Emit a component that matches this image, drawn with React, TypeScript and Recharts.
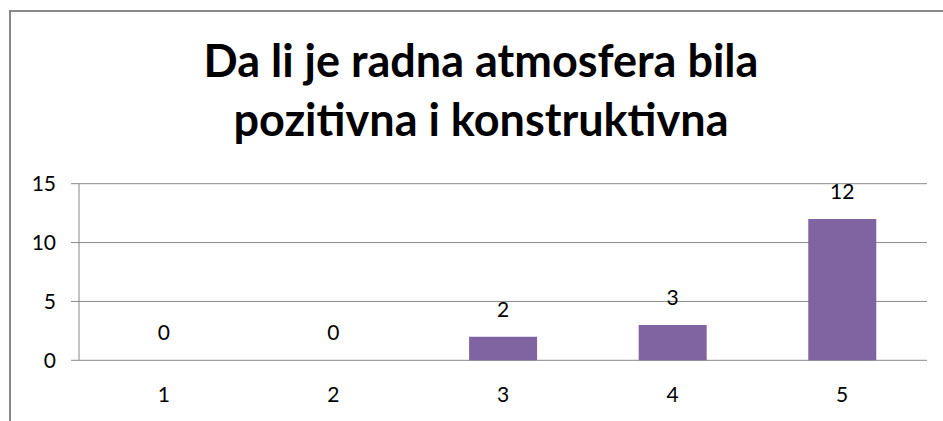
import React from 'react';
import { ComposedChart, Bar, Line, XAxis, YAxis, CartesianGrid, LabelList } from 'recharts';

const categories = ['1', '2', '3', '4', '5'];
const values = [0, 0, 2, 3, 12];
const yTicks = [0, 5, 10, 15];
const boundaryTicks = [0, 1, 2, 3, 4, 5];
const titleLines = ['Da li je radna atmosfera bila', 'pozitivna i konstruktivna'];

const data = categories.map((c, i) => ({ cat: c, value: values[i] }));

const FONT = 'Lato, "Open Sans", sans-serif';
const GRAY = '#888888';
const PURPLE = '#8064A2';

export default function App() {
  return (
    <div style={{ position: 'absolute', left: 0, top: 0, width: 943, height: 421, background: '#fff', overflow: 'hidden', fontFamily: FONT }}>
      <div style={{ position: 'absolute', left: 9, top: 10, width: 940, height: 420, border: `2px solid ${GRAY}`, boxSizing: 'border-box' }} />
      <div style={{ position: 'absolute', left: 0, width: 962, top: 31, textAlign: 'center', fontWeight: 700, fontSize: 45, lineHeight: '59px', color: '#000' }}>
        {titleLines.map((l) => (
          <div key={l}>{l}</div>
        ))}
      </div>
      <div style={{ position: 'absolute', left: 0, top: 0 }}>
        <ComposedChart width={943} height={421} data={data} margin={{ top: 183.7, right: 16, bottom: 30.7, left: 0 }} barCategoryGap="30%">
          <CartesianGrid horizontal vertical={false} stroke={GRAY} xAxisId="cat" />
          <YAxis
            width={79}
            domain={[0, 15]}
            ticks={yTicks}
            interval={0}
            tickSize={8}
            tickMargin={15}
            axisLine={{ stroke: GRAY }}
            tickLine={{ stroke: GRAY }}
            tick={{ fill: '#000', fontSize: 21, fontFamily: FONT }}
          />
          <XAxis
            xAxisId="grid"
            type="number"
            domain={[0, 5]}
            ticks={boundaryTicks}
            interval={0}
            height={0}
            tickSize={8}
            tickFormatter={() => ''}
            axisLine={{ stroke: GRAY }}
            tickLine={{ stroke: GRAY }}
          />
          <XAxis
            xAxisId="cat"
            dataKey="cat"
            height={30}
            tickLine={false}
            axisLine={false}
            tickSize={0}
            tickMargin={27}
            interval={0}
            tick={{ fill: '#000', fontSize: 21, fontFamily: FONT }}
          />
          <Bar dataKey="value" xAxisId="cat" fill={PURPLE} isAnimationActive={false} />
          <Line dataKey="value" xAxisId="cat" stroke="none" dot={false} activeDot={false} isAnimationActive={false}>
            <LabelList dataKey="value" position="top" offset={20} fill="#000" fontSize={21} fontFamily={FONT} />
          </Line>
        </ComposedChart>
      </div>
    </div>
  );
}
